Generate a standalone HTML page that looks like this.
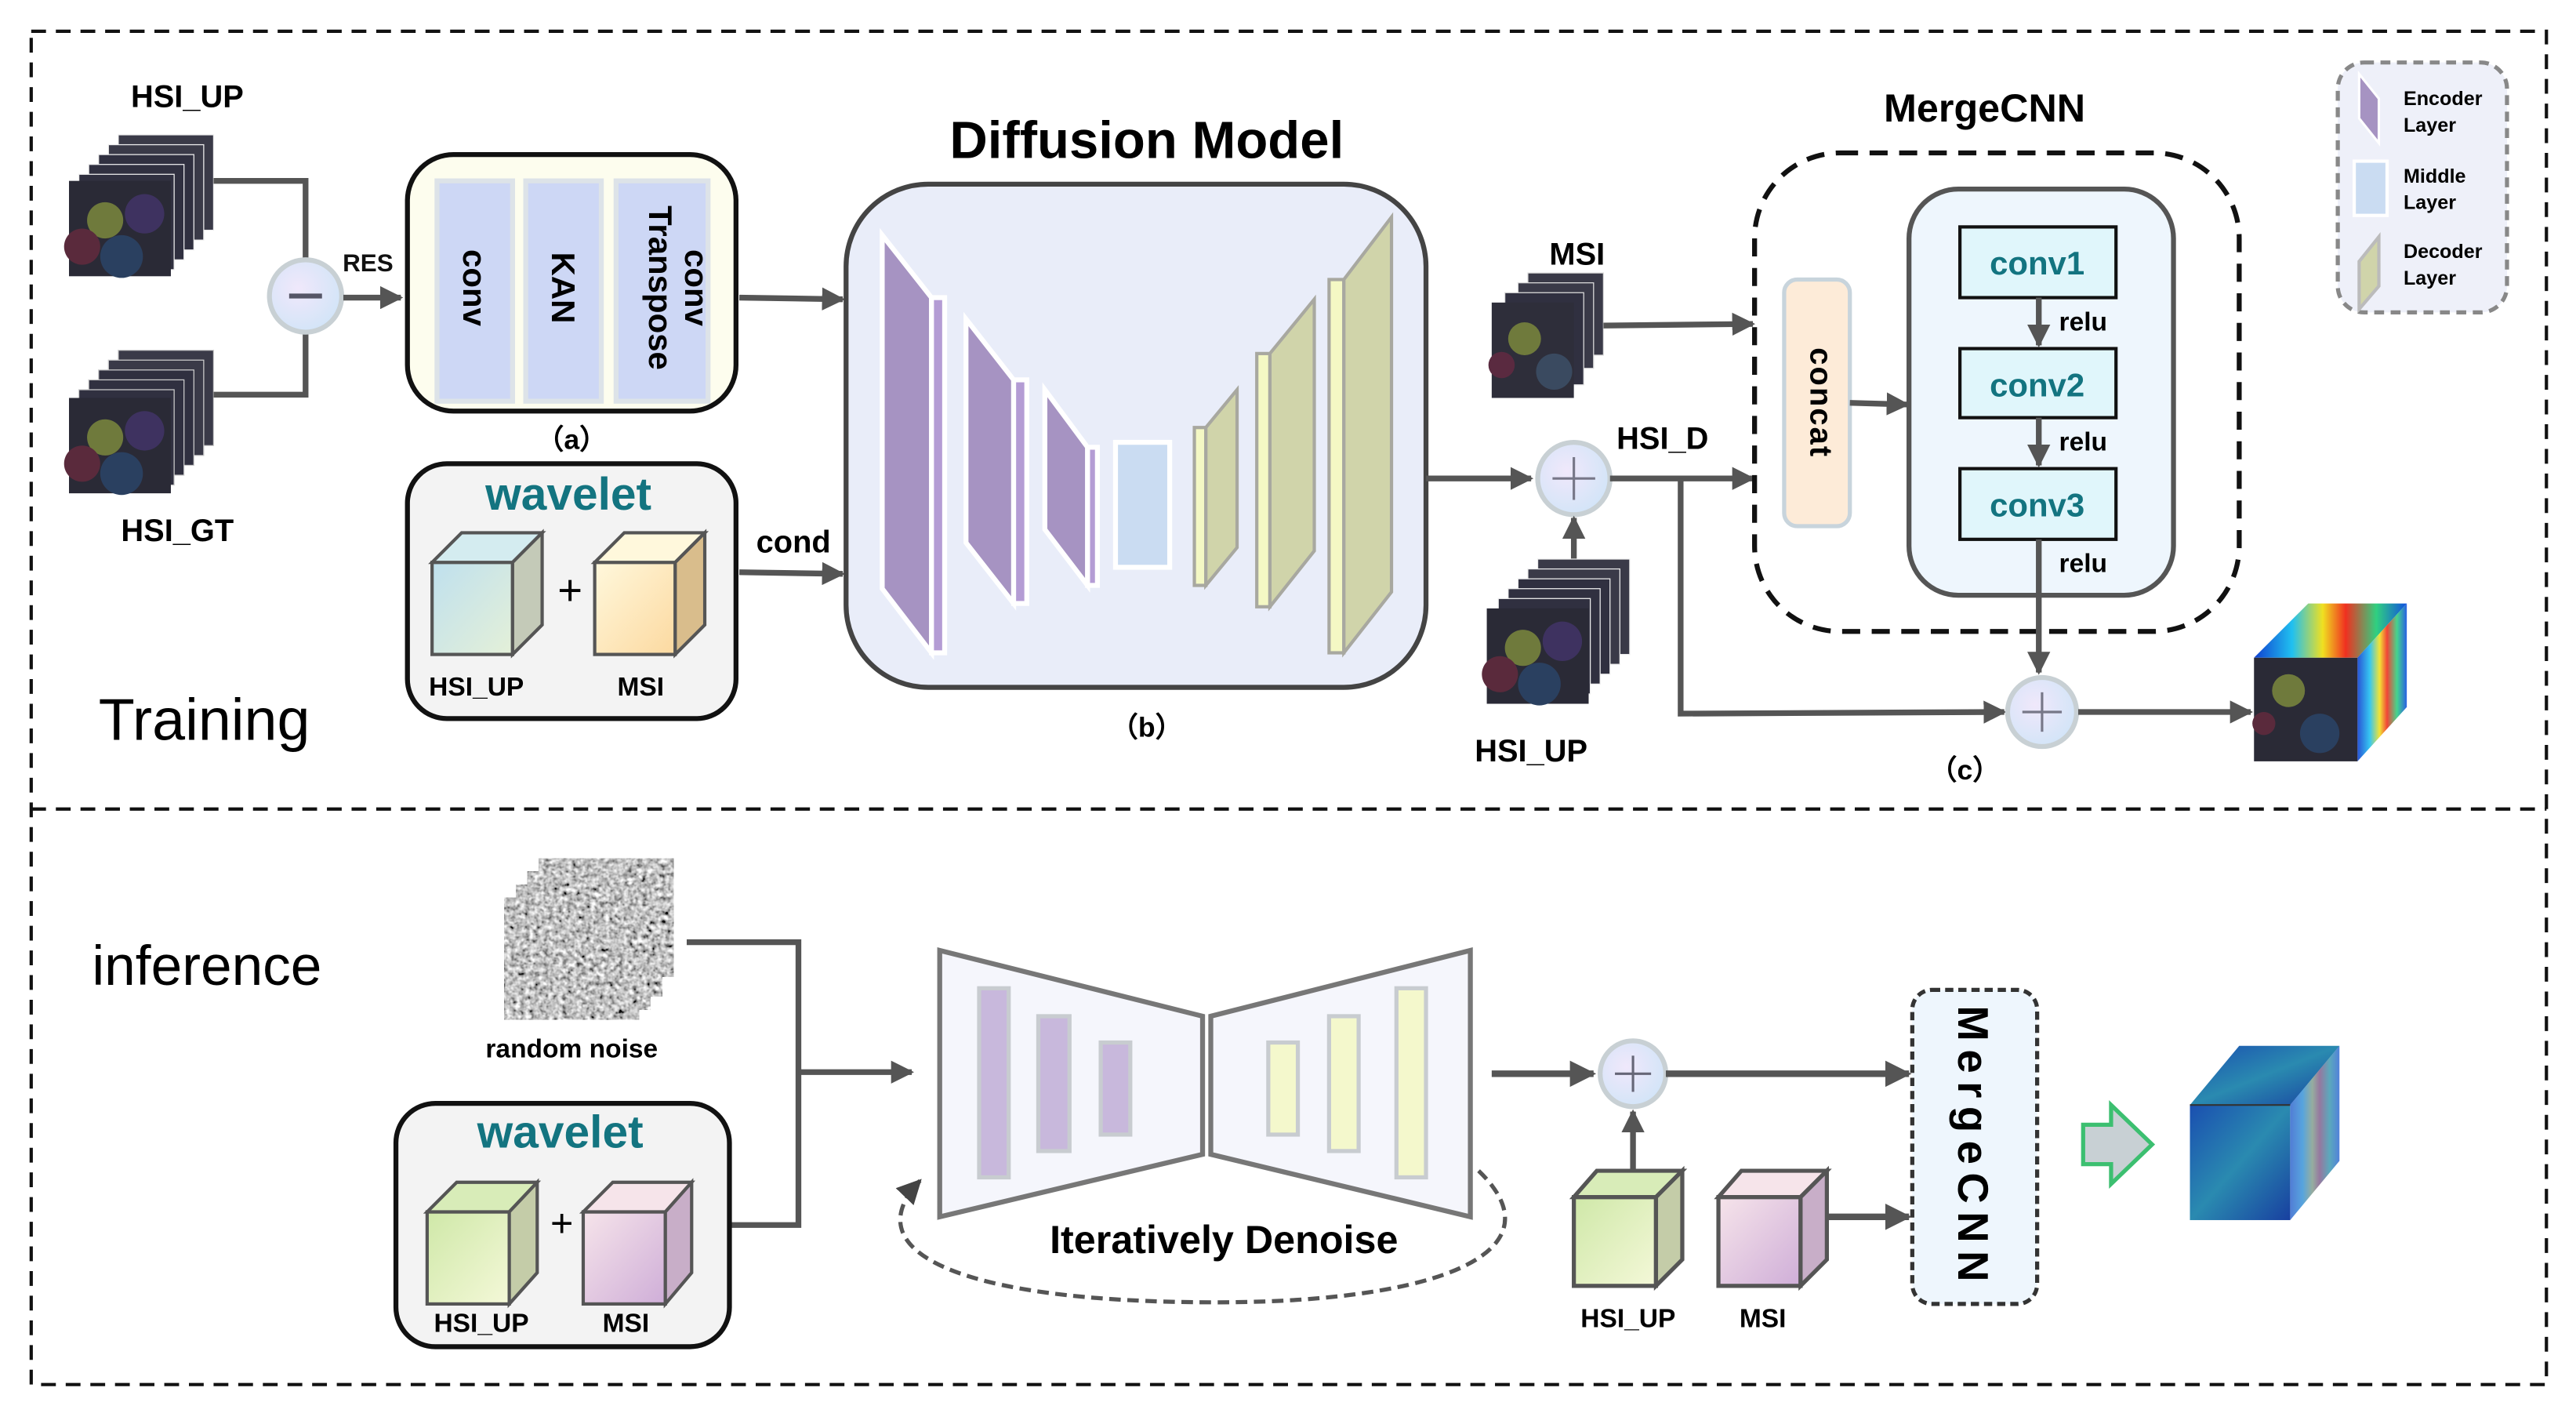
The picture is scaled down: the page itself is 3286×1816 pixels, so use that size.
<!DOCTYPE html>
<html><head><meta charset="utf-8"><style>
html,body{margin:0;padding:0;background:#fff;width:3286px;height:1816px;overflow:hidden}
svg{display:block}
text{font-family:"Liberation Sans",Arial,sans-serif}
</style></head><body>
<svg width="3286" height="1816" viewBox="0 0 1568 866" preserveAspectRatio="none" xmlns="http://www.w3.org/2000/svg">
<defs>
<marker id="ar" viewBox="0 0 10 10" refX="9" refY="5" markerWidth="4" markerHeight="4" orient="auto" markerUnits="strokeWidth"><path d="M0,0L10,5L0,10z" fill="#555"/></marker>
<marker id="ar2" viewBox="0 0 10 10" refX="9" refY="5" markerWidth="6" markerHeight="6" orient="auto" markerUnits="strokeWidth"><path d="M0,0L10,5L0,10z" fill="#444"/></marker>
<radialGradient id="circ" cx="40%" cy="40%" r="70%"><stop offset="0" stop-color="#f0e8fb"/><stop offset="1" stop-color="#cfe4f7"/></radialGradient>
<linearGradient id="cb1" x1="0" y1="0" x2="1" y2="1"><stop offset="0" stop-color="#bfe0ee"/><stop offset="1" stop-color="#e4f0d8"/></linearGradient>
<linearGradient id="cb2" x1="0" y1="0" x2="1" y2="1"><stop offset="0" stop-color="#fff8dc"/><stop offset="1" stop-color="#fcd9a0"/></linearGradient>
<linearGradient id="cg" x1="0" y1="0" x2="1" y2="1"><stop offset="0" stop-color="#cfe8a8"/><stop offset="1" stop-color="#f4f8d8"/></linearGradient>
<linearGradient id="cp" x1="0" y1="0" x2="1" y2="1"><stop offset="0" stop-color="#f6e4ea"/><stop offset="1" stop-color="#cfaed8"/></linearGradient>
<linearGradient id="heat" x1="0" y1="0" x2="1" y2="0"><stop offset="0" stop-color="#1040d0"/><stop offset=".25" stop-color="#20c0f0"/><stop offset=".45" stop-color="#f0e020"/><stop offset=".6" stop-color="#f03020"/><stop offset=".8" stop-color="#30d080"/><stop offset="1" stop-color="#1050e0"/></linearGradient>
<linearGradient id="blue" x1="0" y1="0" x2="1" y2="1"><stop offset="0" stop-color="#1a4fb0"/><stop offset=".5" stop-color="#2a8ab0"/><stop offset="1" stop-color="#1840a0"/></linearGradient>
<filter id="noise" x="0" y="0" width="100%" height="100%"><feTurbulence type="fractalNoise" baseFrequency="0.35" numOctaves="2" seed="3"/><feColorMatrix type="matrix" values="0.33 0.33 0.33 0 0 0.33 0.33 0.33 0 0 0.33 0.33 0.33 0 0 0 0 0 0 1"/><feComponentTransfer><feFuncR type="linear" slope="2.6" intercept="-0.75"/><feFuncG type="linear" slope="2.6" intercept="-0.75"/><feFuncB type="linear" slope="2.6" intercept="-0.75"/></feComponentTransfer></filter>
<g id="ph">
<rect x="0" y="0" width="62" height="58" fill="#2a2a36"/>
<circle cx="22" cy="24" r="11" fill="#6f7a3c"/><circle cx="46" cy="20" r="12" fill="#3e3260"/>
<circle cx="8" cy="40" r="11" fill="#5a2a3c"/><circle cx="32" cy="46" r="13" fill="#2a4060"/>
</g>
</defs>

<rect x="19" y="19" width="1531" height="823" fill="none" stroke="#111" stroke-width="2" stroke-dasharray="9,6"/>
<line x1="19" y1="492" x2="1550" y2="492" stroke="#111" stroke-width="2" stroke-dasharray="9,6"/>

<!-- TRAINING -->
<text x="114" y="65" font-size="19" font-weight="bold" text-anchor="middle">HSI_UP</text>
<g stroke="#eee" stroke-width=".6">
<rect x="72" y="82" width="58" height="58" fill="#3a3a48"/><rect x="66" y="88" width="58" height="58" fill="#3a3a48"/><rect x="60" y="94" width="58" height="58" fill="#303040"/><rect x="54" y="100" width="58" height="58" fill="#303040"/><rect x="48" y="106" width="58" height="58" fill="#303040"/>
</g>
<use href="#ph" x="42" y="110"/>
<g stroke="#ccc" stroke-width=".6">
<rect x="72" y="213" width="58" height="58" fill="#3a3a48"/><rect x="66" y="219" width="58" height="58" fill="#3a3a48"/><rect x="60" y="225" width="58" height="58" fill="#303040"/><rect x="54" y="231" width="58" height="58" fill="#303040"/><rect x="48" y="237" width="58" height="58" fill="#303040"/>
</g>
<use href="#ph" x="42" y="242"/>
<text x="108" y="329" font-size="19" font-weight="bold" text-anchor="middle">HSI_GT</text>
<polyline points="130,110 186,110 186,158" fill="none" stroke="#555" stroke-width="3.5"/>
<polyline points="130,240 186,240 186,202" fill="none" stroke="#555" stroke-width="3.5"/>
<circle cx="186" cy="180" r="22" fill="url(#circ)" stroke="#c8d0d4" stroke-width="3"/>
<line x1="176" y1="180" x2="196" y2="180" stroke="#556" stroke-width="3"/>
<line x1="209" y1="181" x2="244" y2="181" stroke="#555" stroke-width="3.5" marker-end="url(#ar)"/>
<text x="224" y="165" font-size="15" text-anchor="middle" font-weight="bold" fill="#111">RES</text>

<rect x="248" y="94" width="200" height="156" rx="28" fill="#fdfdee" stroke="#111" stroke-width="3"/>
<rect x="266" y="110" width="46" height="134" fill="#cdd7f5" stroke="#dde3e8" stroke-width="3"/>
<rect x="320" y="110" width="46" height="134" fill="#cdd7f5" stroke="#dde3e8" stroke-width="3"/>
<rect x="375" y="110" width="56" height="134" fill="#cdd7f5" stroke="#dde3e8" stroke-width="3"/>
<text transform="translate(282,175) rotate(90)" font-size="20" font-weight="bold" text-anchor="middle">conv</text>
<text transform="translate(336,175) rotate(90)" font-size="20" font-weight="bold" text-anchor="middle">KAN</text>
<text transform="translate(403,175) rotate(90)" font-size="20" font-weight="bold" text-anchor="middle"><tspan x="0" dy="-14">conv</tspan><tspan x="0" dy="22">Transpose</tspan></text>
<text x="348" y="273" font-size="17" font-weight="bold" text-anchor="middle">（a）</text>

<rect x="248" y="282" width="200" height="155" rx="24" fill="#f3f3f3" stroke="#111" stroke-width="3"/>
<text x="346" y="310" font-size="28" font-weight="bold" fill="#137480" text-anchor="middle">wavelet</text>
<rect x="263" y="342" width="49" height="56" fill="url(#cb1)" stroke="#555" stroke-width="2"/>
<polygon points="263,342 281,324 330,324 312,342" fill="#d4ecf0" stroke="#555" stroke-width="2"/>
<polygon points="312,342 330,324 330,380 312,398" fill="#c4cab8" stroke="#555" stroke-width="2"/>
<rect x="362" y="342" width="49" height="56" fill="url(#cb2)" stroke="#555" stroke-width="2"/>
<polygon points="362,342 380,324 429,324 411,342" fill="#fff8dc" stroke="#555" stroke-width="2"/>
<polygon points="411,342 429,324 429,380 411,398" fill="#d9bd8c" stroke="#555" stroke-width="2"/>
<text x="347" y="368" font-size="26" text-anchor="middle">+</text>
<text x="290" y="423" font-size="16" font-weight="bold" text-anchor="middle">HSI_UP</text>
<text x="390" y="423" font-size="16" font-weight="bold" text-anchor="middle">MSI</text>

<line x1="450" y1="181" x2="513" y2="182" stroke="#555" stroke-width="3.5" marker-end="url(#ar)"/>
<line x1="450" y1="348" x2="513" y2="349" stroke="#555" stroke-width="3.5" marker-end="url(#ar)"/>
<text x="483" y="336" font-size="19" font-weight="bold" text-anchor="middle">cond</text>

<text x="698" y="96" font-size="32" font-weight="bold" text-anchor="middle">Diffusion Model</text>
<rect x="515" y="112" width="353" height="306" rx="50" fill="#e9edf9" stroke="#444" stroke-width="3"/>
<g stroke="#fff" stroke-width="3">
<polygon points="537,143 567,181 567,397 537,358" fill="#a693c2"/><rect x="567" y="181" width="8" height="216" fill="#b49cd4"/>
<polygon points="588,194 617,231 617,367 588,330" fill="#a693c2"/><rect x="617" y="231" width="8" height="136" fill="#b49cd4"/>
<polygon points="636,237 662,272 662,356 636,322" fill="#a693c2"/><rect x="662" y="272" width="6" height="84" fill="#b49cd4"/>
<rect x="679" y="269" width="33" height="76" fill="#cadcf2"/>
</g>
<g stroke="#a8a8a0" stroke-width="2">
<rect x="727" y="260" width="7" height="96" fill="#f4f8c4"/><polygon points="734,260 753,237 753,333 734,356" fill="#d0d4aa"/>
<rect x="765" y="215" width="8" height="154" fill="#f4f8c4"/><polygon points="773,215 800,182 800,335 773,369" fill="#d0d4aa"/>
<rect x="809" y="170" width="9" height="227" fill="#f4f8c4"/><polygon points="818,170 847,132 847,360 818,397" fill="#d0d4aa"/>
</g>
<text x="698" y="448" font-size="17" font-weight="bold" text-anchor="middle">（b）</text>

<line x1="868" y1="291" x2="932" y2="291" stroke="#555" stroke-width="3.5" marker-end="url(#ar)"/>
<circle cx="958" cy="291" r="22" fill="url(#circ)" stroke="#c8d0d4" stroke-width="3"/>
<line x1="945" y1="291" x2="971" y2="291" stroke="#778" stroke-width="1.5"/><line x1="958" y1="278" x2="958" y2="304" stroke="#778" stroke-width="1.5"/>
<text x="1012" y="273" font-size="19" font-weight="bold" text-anchor="middle">HSI_D</text>
<line x1="980" y1="291" x2="1067" y2="291" stroke="#555" stroke-width="3.5" marker-end="url(#ar)"/>
<polyline points="1023,291 1023,434 1220,433" fill="none" stroke="#555" stroke-width="3.5" marker-end="url(#ar)"/>
<line x1="958" y1="342" x2="958" y2="315" stroke="#555" stroke-width="3.5" marker-end="url(#ar)"/>
<g stroke="#eee" stroke-width=".6">
<rect x="936" y="340" width="56" height="58" fill="#3a3a48"/><rect x="930" y="346" width="56" height="58" fill="#3a3a48"/><rect x="924" y="352" width="56" height="58" fill="#303040"/><rect x="918" y="358" width="56" height="58" fill="#303040"/><rect x="912" y="364" width="56" height="58" fill="#303040"/>
</g>
<use href="#ph" x="905" y="370"/>
<text x="932" y="463" font-size="19" font-weight="bold" text-anchor="middle">HSI_UP</text>
<g stroke="#ddd" stroke-width=".6">
<rect x="930" y="166" width="46" height="50" fill="#3a3a48"/><rect x="924" y="172" width="46" height="52" fill="#3a3a48"/><rect x="916" y="178" width="48" height="56" fill="#303040"/>
</g>
<rect x="908" y="184" width="50" height="58" fill="#2e2e3a"/><circle cx="928" cy="206" r="10" fill="#6f7a3c"/><circle cx="946" cy="226" r="11" fill="#3a4a60"/><circle cx="914" cy="222" r="8" fill="#5a2a40"/>
<text x="960" y="161" font-size="19" font-weight="bold" text-anchor="middle">MSI</text>
<line x1="976" y1="198" x2="1067" y2="197" stroke="#555" stroke-width="3.5" marker-end="url(#ar)"/>

<text x="1208" y="74" font-size="24" font-weight="bold" text-anchor="middle">MergeCNN</text>
<rect x="1068" y="93" width="295" height="291" rx="52" fill="none" stroke="#111" stroke-width="3" stroke-dasharray="11,7"/>
<rect x="1086" y="170" width="40" height="150" rx="8" fill="#fdebd8" stroke="#c8d4dc" stroke-width="2.5"/>
<text transform="translate(1102,245) rotate(90)" font-size="19" font-weight="bold" text-anchor="middle" letter-spacing="1">concat</text>
<line x1="1126" y1="245" x2="1161" y2="246" stroke="#555" stroke-width="3.5" marker-end="url(#ar)"/>
<rect x="1162" y="115" width="161" height="247" rx="30" fill="#eef6fd" stroke="#555" stroke-width="3"/>
<g fill="#e0f6fb" stroke="#111" stroke-width="2">
<rect x="1193" y="138" width="95" height="43"/><rect x="1193" y="212" width="95" height="42"/><rect x="1193" y="285" width="95" height="43"/>
</g>
<g font-size="20" font-weight="bold" fill="#137480" text-anchor="middle">
<text x="1240" y="167">conv1</text><text x="1240" y="241">conv2</text><text x="1240" y="314">conv3</text>
</g>
<line x1="1241" y1="181" x2="1241" y2="210" stroke="#555" stroke-width="3.5" marker-end="url(#ar)"/>
<line x1="1241" y1="254" x2="1241" y2="283" stroke="#555" stroke-width="3.5" marker-end="url(#ar)"/>
<line x1="1241" y1="328" x2="1241" y2="409" stroke="#555" stroke-width="3.5" marker-end="url(#ar)"/>
<g font-size="16" font-weight="bold" text-anchor="middle"><text x="1268" y="201">relu</text><text x="1268" y="274">relu</text><text x="1268" y="348">relu</text></g>
<circle cx="1243" cy="433" r="21" fill="url(#circ)" stroke="#c8d0d4" stroke-width="3"/>
<line x1="1231" y1="433" x2="1255" y2="433" stroke="#778" stroke-width="1.5"/><line x1="1243" y1="421" x2="1243" y2="445" stroke="#778" stroke-width="1.5"/>
<line x1="1265" y1="433" x2="1370" y2="433" stroke="#555" stroke-width="3.5" marker-end="url(#ar)"/>
<text x="1196" y="474" font-size="17" font-weight="bold" text-anchor="middle">（c）</text>
<polygon points="1372,400 1405,367 1465,367 1435,400" fill="url(#heat)"/>
<polygon points="1435,400 1465,367 1465,430 1435,463" fill="url(#heat)" opacity=".9"/>
<rect x="1372" y="400" width="63" height="63" fill="#2a2a36"/>
<circle cx="1393" cy="420" r="10" fill="#6f7a3c"/><circle cx="1412" cy="446" r="12" fill="#2a4060"/><circle cx="1378" cy="440" r="7" fill="#5a2a3c"/>

<rect x="1423" y="38" width="103" height="152" rx="16" fill="#eef0f9" stroke="#888" stroke-width="2.5" stroke-dasharray="6,4"/>
<polygon points="1436,45 1448,60 1448,87 1436,72" fill="#a693c2" stroke="#fff" stroke-width="1.5"/>
<rect x="1433" y="98" width="20" height="33" fill="#cadcf2" stroke="#fff" stroke-width="2"/>
<polygon points="1436,159 1448,144 1448,174 1436,188" fill="#d0d4aa" stroke="#bbb" stroke-width="2"/>
<g font-size="12" font-weight="bold"><text x="1463" y="64">Encoder</text><text x="1463" y="80">Layer</text><text x="1463" y="111">Middle</text><text x="1463" y="127">Layer</text><text x="1463" y="157">Decoder</text><text x="1463" y="173">Layer</text></g>

<text x="60" y="450" font-size="36" font-family="'DejaVu Sans',sans-serif">Training</text>

<!-- INFERENCE -->
<text x="56" y="599" font-size="34" font-family="'DejaVu Sans',sans-serif">inference</text>
<rect x="328" y="522" width="82" height="72" fill="#777" filter="url(#noise)"/>
<rect x="321" y="530" width="82" height="76" fill="#777" filter="url(#noise)"/>
<rect x="314" y="538" width="82" height="76" fill="#777" filter="url(#noise)"/>
<rect x="307" y="546" width="82" height="74" fill="#777" filter="url(#noise)"/>
<text x="348" y="643" font-size="16" font-weight="bold" text-anchor="middle">random noise</text>
<polyline points="418,573 486,573 486,745 445,745" fill="none" stroke="#555" stroke-width="3.5"/>
<line x1="486" y1="652" x2="555" y2="652" stroke="#555" stroke-width="3.5" marker-end="url(#ar)"/>

<rect x="241" y="671" width="203" height="148" rx="24" fill="#f3f3f3" stroke="#111" stroke-width="3"/>
<text x="341" y="698" font-size="28" font-weight="bold" fill="#137480" text-anchor="middle">wavelet</text>
<rect x="260" y="737" width="50" height="56" fill="url(#cg)" stroke="#555" stroke-width="2"/>
<polygon points="260,737 278,719 327,719 310,737" fill="#d8ecb8" stroke="#555" stroke-width="2"/>
<polygon points="310,737 327,719 327,774 310,793" fill="#c4cca8" stroke="#555" stroke-width="2"/>
<rect x="355" y="737" width="50" height="56" fill="url(#cp)" stroke="#555" stroke-width="2"/>
<polygon points="355,737 373,719 421,719 405,737" fill="#f6e4ea" stroke="#555" stroke-width="2"/>
<polygon points="405,737 421,719 421,774 405,793" fill="#c8aec8" stroke="#555" stroke-width="2"/>
<text x="342" y="752" font-size="24" text-anchor="middle">+</text>
<text x="293" y="810" font-size="16" font-weight="bold" text-anchor="middle">HSI_UP</text>
<text x="381" y="810" font-size="16" font-weight="bold" text-anchor="middle">MSI</text>

<!-- dashed loop -->
<path d="M900,712 C950,760 880,792 740,792 C580,792 520,760 560,718" fill="none" stroke="#555" stroke-width="2.5" stroke-dasharray="7,4" marker-end="url(#ar2)"/>
<!-- bowtie -->
<polygon points="572,578 732,686 732,686 572,740" fill="none"/>
<polygon points="572,578 732,618 732,702 572,740" fill="#f5f6fc" stroke="#777" stroke-width="3" transform="matrix(1,0,0,1,0,0)"/>
<polygon points="737,618 895,578 895,740 737,702" fill="#f5f6fc" stroke="#777" stroke-width="3"/>
<g stroke="#c8ccd0" stroke-width="2.5">
<rect x="596" y="601" width="18" height="115" fill="#c8b8dc"/>
<rect x="632" y="618" width="19" height="82" fill="#c8b8dc"/>
<rect x="670" y="634" width="18" height="56" fill="#c8b8dc"/>
<rect x="772" y="634" width="18" height="56" fill="#f4f8cc"/>
<rect x="809" y="618" width="18" height="82" fill="#f4f8cc"/>
<rect x="850" y="601" width="18" height="115" fill="#f4f8cc"/>
</g>
<text x="745" y="762" font-size="24" font-weight="bold" text-anchor="middle">Iteratively Denoise</text>

<line x1="908" y1="653" x2="970" y2="653" stroke="#555" stroke-width="4" marker-end="url(#ar)"/>
<circle cx="994" cy="653" r="20" fill="url(#circ)" stroke="#c8d0d4" stroke-width="3"/>
<line x1="983" y1="653" x2="1005" y2="653" stroke="#667" stroke-width="1.5"/><line x1="994" y1="642" x2="994" y2="664" stroke="#667" stroke-width="1.5"/>
<line x1="1014" y1="653" x2="1162" y2="653" stroke="#555" stroke-width="4" marker-end="url(#ar)"/>
<line x1="994" y1="712" x2="994" y2="676" stroke="#555" stroke-width="3.5" marker-end="url(#ar)"/>
<rect x="958" y="728" width="50" height="54" fill="url(#cg)" stroke="#555" stroke-width="2.5"/>
<polygon points="958,728 972,712 1024,712 1008,728" fill="#d8ecb8" stroke="#555" stroke-width="2.5"/>
<polygon points="1008,728 1024,712 1024,766 1008,782" fill="#c4cca8" stroke="#555" stroke-width="2.5"/>
<rect x="1046" y="728" width="50" height="54" fill="url(#cp)" stroke="#555" stroke-width="2.5"/>
<polygon points="1046,728 1060,712 1112,712 1096,728" fill="#f6e4ea" stroke="#555" stroke-width="2.5"/>
<polygon points="1096,728 1112,712 1112,766 1096,782" fill="#c8aec8" stroke="#555" stroke-width="2.5"/>
<line x1="1112" y1="740" x2="1162" y2="740" stroke="#555" stroke-width="4" marker-end="url(#ar)"/>
<text x="991" y="807" font-size="16" font-weight="bold" text-anchor="middle">HSI_UP</text>
<text x="1073" y="807" font-size="16" font-weight="bold" text-anchor="middle">MSI</text>

<rect x="1164" y="602" width="76" height="191" rx="12" fill="#eef6fd" stroke="#333" stroke-width="2.5" stroke-dasharray="5,3"/>
<text transform="translate(1192,698) rotate(90)" font-size="26" font-weight="bold" text-anchor="middle" letter-spacing="5">MergeCNN</text>

<polygon points="1268,684 1285,684 1285,672 1310,696 1285,720 1285,708 1268,708" fill="#c8d0d4" stroke="#3cbf70" stroke-width="2.5"/>
<polygon points="1333,672 1363,636 1424,636 1394,672" fill="url(#blue)"/>
<polygon points="1394,672 1424,636 1424,706 1394,742" fill="url(#heat)" opacity=".55"/>
<polygon points="1394,672 1424,636 1424,706 1394,742" fill="#2060c0" opacity=".45"/>
<rect x="1333" y="672" width="61" height="70" fill="url(#blue)"/>
<line x1="1333" y1="672" x2="1394" y2="672" stroke="#333" stroke-width="1"/>
</svg>
</body></html>
